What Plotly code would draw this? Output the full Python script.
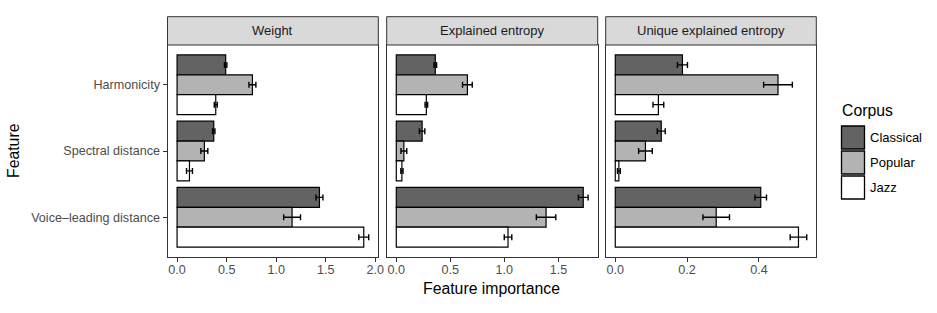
import plotly.graph_objects as go

# ---------------- data ----------------
features = ["Harmonicity", "Spectral distance", "Voice\u2013leading distance"]
corpora = ["Classical", "Popular", "Jazz"]
panels = ["Weight", "Explained entropy", "Unique explained entropy"]

weight_classical = [0.49, 0.37, 1.436]
weight_popular = [0.76, 0.275, 1.16]
weight_jazz = [0.39, 0.125, 1.883]
weight_classical_err = [0.012, 0.012, 0.035]
weight_popular_err = [0.035, 0.035, 0.085]
weight_jazz_err = [0.015, 0.03, 0.05]

entropy_classical = [0.361, 0.239, 1.73]
entropy_popular = [0.658, 0.07, 1.386]
entropy_jazz = [0.278, 0.052, 1.034]
entropy_classical_err = [0.012, 0.025, 0.045]
entropy_popular_err = [0.045, 0.027, 0.09]
entropy_jazz_err = [0.012, 0.01, 0.035]

unique_classical = [0.187, 0.128, 0.405]
unique_popular = [0.453, 0.084, 0.281]
unique_jazz = [0.12, 0.010, 0.51]
unique_classical_err = [0.014, 0.011, 0.016]
unique_popular_err = [0.04, 0.019, 0.037]
unique_jazz_err = [0.015, 0.004, 0.023]

tickvals_weight = [0.0, 0.5, 1.0, 1.5, 2.0]
tickvals_entropy = [0.0, 0.5, 1.0, 1.5]
tickvals_unique = [0.0, 0.2, 0.4]
ticktext_weight = ["0.0", "0.5", "1.0", "1.5", "2.0"]
ticktext_entropy = ["0.0", "0.5", "1.0", "1.5"]
ticktext_unique = ["0.0", "0.2", "0.4"]

colors = ["#636363", "#B3B3B3", "#FFFFFF"]

panel_values = [
    ([weight_classical, weight_popular, weight_jazz],
     [weight_classical_err, weight_popular_err, weight_jazz_err],
     tickvals_weight, ticktext_weight),
    ([entropy_classical, entropy_popular, entropy_jazz],
     [entropy_classical_err, entropy_popular_err, entropy_jazz_err],
     tickvals_entropy, ticktext_entropy),
    ([unique_classical, unique_popular, unique_jazz],
     [unique_classical_err, unique_popular_err, unique_jazz_err],
     tickvals_unique, ticktext_unique),
]

# ---------------- layout geometry (pixels) ----------------
W, H = 937, 313
panel_x = [(167.5, 378.3), (386.7, 597.7), (605.7, 816.3)]
panel_top, panel_bot = 45.0, 257.0
strip_top = 16.7
FONT = "Liberation Sans, Arial, sans-serif"
TICK_SIZE = 12.6


def px(x):
    return x / W


def py(y):
    return 1 - y / H


fig = go.Figure()
layout = dict(
    width=W, height=H,
    margin=dict(l=0, r=0, t=0, b=0),
    paper_bgcolor="white", plot_bgcolor="white",
    barmode="group", bargap=0.1, bargroupgap=0.0,
    showlegend=False,
    font=dict(family=FONT, color="#1A1A1A"),
    template="none",
)

shapes = []
annotations = []

for i, (vals, errs, tv, tt) in enumerate(panel_values):
    sx = "" if i == 0 else str(i + 1)
    for c, corpus in enumerate(corpora):
        fig.add_trace(go.Bar(
            orientation="h",
            x=vals[c], y=features, name=corpus,
            marker=dict(color=colors[c], line=dict(color="black", width=1.2)),
            error_x=dict(type="data", array=errs[c], color="black",
                         thickness=1.4, width=3),
            xaxis="x" + sx, yaxis="y" + sx,
            offsetgroup=corpus,
            hoverinfo="x+y+name",
        ))
    m = max(v + e for vs, es in zip(vals, errs) for v, e in zip(vs, es))
    x0, x1 = panel_x[i]
    layout["xaxis" + sx] = dict(
        domain=[px(x0), px(x1)], anchor="y" + sx,
        range=[-0.05 * m, 1.05 * m],
        tickvals=tv, ticktext=tt,
        ticks="outside", ticklen=4, tickwidth=1, tickcolor="#333333",
        tickfont=dict(size=TICK_SIZE, color="#4D4D4D", family=FONT),
        ticklabelstandoff=-3,
        showgrid=False, zeroline=False,
        showline=True, mirror=True, linecolor="#333333", linewidth=1,
        automargin=False, fixedrange=True,
    )
    layout["yaxis" + sx] = dict(
        domain=[py(panel_bot), py(panel_top)], anchor="x" + sx,
        type="category", categoryorder="array", categoryarray=features,
        range=[2.6, -0.6],
        showticklabels=(i == 0),
        ticks="outside" if i == 0 else "", ticklen=4, tickwidth=1,
        tickcolor="#333333",
        tickfont=dict(size=TICK_SIZE, color="#4D4D4D", family=FONT),
        showgrid=False, zeroline=False,
        showline=True, mirror=True, linecolor="#333333", linewidth=1,
        automargin=False, fixedrange=True,
    )
    # strip
    shapes.append(dict(type="rect", xref="paper", yref="paper",
                       x0=px(x0), x1=px(x1), y0=py(panel_top), y1=py(strip_top),
                       fillcolor="#D9D9D9", line=dict(color="#333333", width=1),
                       layer="above"))
    annotations.append(dict(text=panels[i], xref="paper", yref="paper",
                            x=px((x0 + x1) / 2), y=py((panel_top + strip_top) / 2),
                            xanchor="center", yanchor="middle", showarrow=False,
                            font=dict(size=13, color="#1A1A1A", family=FONT)))

# axis titles
annotations.append(dict(text="Feature importance", xref="paper", yref="paper",
                        x=px((panel_x[0][0] + panel_x[2][1]) / 2), y=py(288),
                        xanchor="center", yanchor="middle", showarrow=False,
                        font=dict(size=15.8, color="black", family=FONT)))
annotations.append(dict(text="Feature", xref="paper", yref="paper",
                        x=px(14), y=py((panel_top + panel_bot) / 2),
                        xanchor="center", yanchor="middle", showarrow=False,
                        textangle=-90,
                        font=dict(size=15.8, color="black", family=FONT)))

# legend (drawn manually to match ggplot key size)
annotations.append(dict(text="Corpus", xref="paper", yref="paper",
                        x=px(840), y=py(110), xanchor="left", yanchor="middle",
                        showarrow=False,
                        font=dict(size=15.8, color="black", family=FONT)))
key_top = 126.0
key_size = 23.0
key_step = 25.0
for c, corpus in enumerate(corpora):
    t = key_top + c * key_step
    shapes.append(dict(type="rect", xref="paper", yref="paper",
                       x0=px(841.5), x1=px(841.5 + key_size),
                       y0=py(t + key_size), y1=py(t),
                       fillcolor=colors[c], line=dict(color="black", width=1.3)))
    annotations.append(dict(text=corpus, xref="paper", yref="paper",
                            x=px(868), y=py(t + key_size / 2),
                            xanchor="left", yanchor="middle", showarrow=False,
                            font=dict(size=13, color="black", family=FONT)))

layout["shapes"] = shapes
layout["annotations"] = annotations
fig.update_layout(**layout)
fig.write_html("out.html",
               config={"displayModeBar": False},
               post_script="document.body.style.margin='0';document.body.style.padding='0';")
